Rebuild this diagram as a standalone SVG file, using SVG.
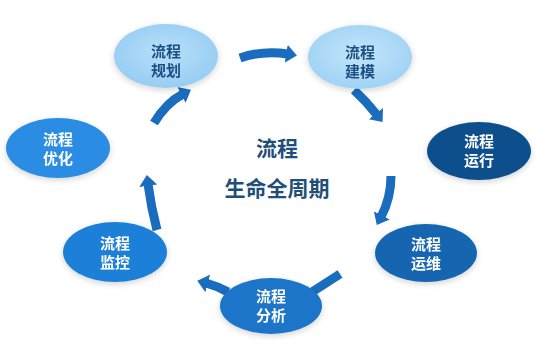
<svg xmlns="http://www.w3.org/2000/svg" width="538" height="356" viewBox="0 0 538 356">
<defs>
<style>
.lbl{font-family:"Noto Sans CJK SC","Noto Sans",sans-serif;font-weight:bold;font-size:15px;text-anchor:middle}
.w{fill:#ffffff}
.d{fill:#1d4f82}
.ctr{font-family:"Noto Sans CJK SC","Noto Sans",sans-serif;font-weight:bold;font-size:21px;text-anchor:middle;fill:#1f4e79}
.arr{fill:none;stroke:#1a6cbf;stroke-width:9}
.node{filter:url(#glow)}
</style>
<filter id="glow" x="-20%" y="-20%" width="140%" height="140%">
<feGaussianBlur in="SourceAlpha" stdDeviation="3"/>
<feOffset dx="0" dy="2"/>
<feComponentTransfer><feFuncA type="linear" slope="0.18"/></feComponentTransfer>
<feMerge><feMergeNode/><feMergeNode in="SourceGraphic"/></feMerge>
</filter>
<radialGradient id="gLight" cx="50%" cy="45%" r="60%">
<stop offset="0" stop-color="#b9e0fa"/><stop offset="1" stop-color="#94cbf2"/>
</radialGradient>
<radialGradient id="gLight2" cx="50%" cy="45%" r="60%">
<stop offset="0" stop-color="#c3e5fb"/><stop offset="1" stop-color="#9dd1f4"/>
</radialGradient>
<marker id="head" viewBox="0 0 6 10" refX="1" refY="5" markerWidth="1.2" markerHeight="2.2" orient="auto">
<path d="M0,0 L6,5 L0,10 Z" fill="#1a6cbf"/>
</marker>
</defs>
<g id="connectors">
<path class="arr" d="M240,58 Q263,50 288,54" marker-end="url(#head)"/>
<path class="arr" d="M354,90 Q366,101 377,115" marker-end="url(#head)"/>
<path class="arr" d="M391,176 Q391,198 381,217" marker-end="url(#head)"/>
<path class="arr" d="M340,274 L312,292"/>
<path class="arr" d="M228,292 Q217,286 206,283" marker-end="url(#head)"/>
<path class="arr" d="M157,230 Q151,207 148,184" marker-end="url(#head)"/>
<path class="arr" d="M154,123 Q166,103 183,94" marker-end="url(#head)"/>
</g>
<g id="center-title">
<text class="ctr" x="277" y="156">流程</text>
<text class="ctr" x="277" y="196">生命全周期</text>
</g>
<g id="node-guihua" class="node">
<ellipse cx="166" cy="56" rx="52" ry="32" fill="url(#gLight)"/>
<text class="lbl d" x="166" y="57">流程</text>
<text class="lbl d" x="166" y="76">规划</text>
</g>
<g id="node-jianmo" class="node">
<ellipse cx="360" cy="57" rx="52" ry="32" fill="url(#gLight2)"/>
<text class="lbl d" x="360" y="58">流程</text>
<text class="lbl d" x="360" y="77">建模</text>
</g>
<g id="node-yunxing" class="node">
<ellipse cx="479" cy="151" rx="52" ry="29" fill="#0f4f8c"/>
<text class="lbl w" x="479" y="147">流程</text>
<text class="lbl w" x="479" y="166">运行</text>
</g>
<g id="node-yunwei" class="node">
<ellipse cx="426" cy="253" rx="51" ry="29" fill="#1565b0"/>
<text class="lbl w" x="426" y="250">流程</text>
<text class="lbl w" x="426" y="269">运维</text>
</g>
<g id="node-fenxi" class="node">
<ellipse cx="271" cy="306" rx="51" ry="28" fill="#1a74c8"/>
<text class="lbl w" x="271" y="302">流程</text>
<text class="lbl w" x="271" y="321">分析</text>
</g>
<g id="node-jiankong" class="node">
<ellipse cx="115" cy="252" rx="52" ry="30" fill="#1e80d8"/>
<text class="lbl w" x="115" y="249">流程</text>
<text class="lbl w" x="115" y="268">监控</text>
</g>
<g id="node-youhua" class="node">
<ellipse cx="58" cy="148" rx="52" ry="30" fill="#2a8ce2"/>
<text class="lbl w" x="58" y="145">流程</text>
<text class="lbl w" x="58" y="164">优化</text>
</g>
</svg>
